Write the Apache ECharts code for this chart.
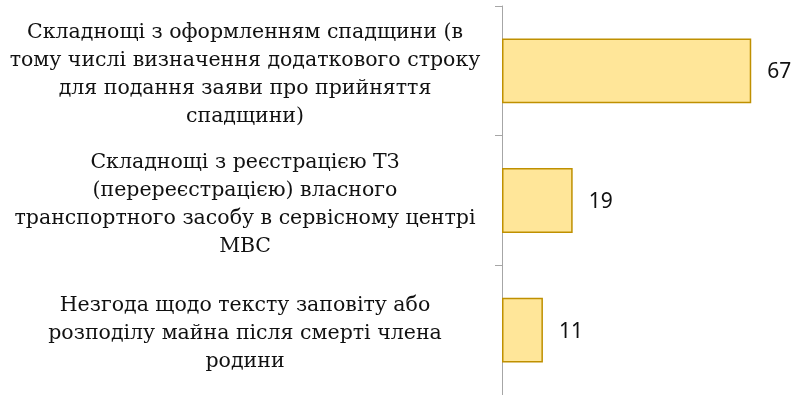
<!DOCTYPE html>
<html>
<head>
<meta charset="utf-8">
<script src="https://cdn.jsdelivr.net/npm/echarts@6/dist/echarts.min.js"></script>
<style>
  html, body { margin: 0; padding: 0; background: #ffffff; }
  #chart { width: 794px; height: 395px; }
</style>
</head>
<body>
<div id="chart"></div>
<script>
// Categories (top to bottom) and their counts
const categories = [
  'Складнощі з оформленням спадщини (в\nтому числі визначення додаткового строку\nдля подання заяви про прийняття\nспадщини)',
  'Складнощі з реєстрацією ТЗ\n(перереєстрацією) власного\nтранспортного засобу в сервісному центрі\nМВС',
  'Незгода щодо тексту заповіту або\nрозподілу майна після смерті члена\nродини'
];
const values = [67, 19, 11];

const labelFont = 'DejaVu Serif';

// A thin spacer line on top nudges each centred label block slightly downward
function formatCategory(text) {
  return '{sp| }\n' + text.split('\n').map(function (line) {
    return '{t|' + line + '}';
  }).join('\n');
}

const chart = echarts.init(document.getElementById('chart'), null, { renderer: 'canvas' });

chart.setOption({
  animation: false,
  backgroundColor: '#ffffff',
  grid: { left: 502, top: 6, width: 260.4, height: 390 },
  xAxis: {
    type: 'value',
    min: 0,
    max: 70,
    show: false
  },
  yAxis: {
    type: 'category',
    inverse: true,
    data: categories,
    axisLine: { show: true, lineStyle: { color: '#A6A6A6', width: 1 } },
    axisTick: { show: true, length: 7, lineStyle: { color: '#A6A6A6' } },
    axisLabel: {
      margin: 257,
      align: 'center',
      formatter: formatCategory,
      rich: {
        sp: { fontSize: 1, lineHeight: 8, fontFamily: labelFont },
        t: { fontFamily: labelFont, fontSize: 20.5, lineHeight: 28, color: '#111111', align: 'center' }
      }
    }
  },
  series: [{
    type: 'bar',
    data: values,
    barCategoryGap: '50%',
    itemStyle: { color: '#FFE699', borderColor: '#BF9000', borderWidth: 1.5 },
    label: {
      show: true,
      position: 'right',
      distance: 16,
      offset: [0, 1.5],
      fontFamily: 'Noto Sans',
      fontSize: 21,
      color: '#111111'
    }
  }]
});
</script>
</body>
</html>
